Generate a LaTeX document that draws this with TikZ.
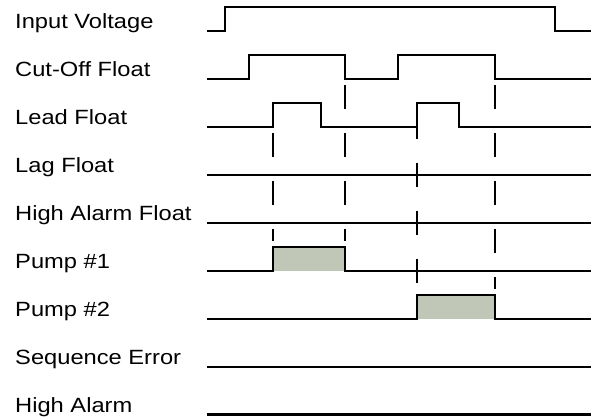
\documentclass[tikz,border=0pt]{standalone}
\usepackage{fontspec}
\setmainfont{Liberation Sans}[FakeStretch=1.15]
\definecolor{pumpfill}{RGB}{192,199,183}
\tikzset{
  lbl/.style={anchor=base west, inner sep=0pt, font=\fontsize{20.6}{24}\selectfont},
  sig/.style={line width=2.1pt, line join=miter},
  guide/.style={line width=2pt, dash pattern=on 24pt off 24pt},
}
\begin{document}
\begin{tikzpicture}[x=1pt, y=-1pt]
\useasboundingbox (0,0) rectangle (592,418);
% labels
\node[lbl] (l0) at (15,28.3) {Input Voltage};
\node[lbl] (l1) at (15,76.3) {Cut-Off Float};
\node[lbl] (l2) at (15,124.3) {Lead Float};
\node[lbl] (l3) at (15,172.3) {Lag Float};
\node[lbl] (l4) at (15,220.3) {High Alarm Float};
\node[lbl] (l5) at (15,268.3) {Pump \#1};
\node[lbl] (l6) at (15,316.3) {Pump \#2};
\node[lbl] (l7) at (15,364.3) {Sequence Error};
\node[lbl] (l8) at (15,412.3) {High Alarm};
% pump fills
\fill[pumpfill] (272.7,246.7) rectangle (344.7,270.7);
\fill[pumpfill] (416.7,294.7) rectangle (495,318.7);
% guides
\draw[guide] (272.7,133) -- (272.7,241);
\draw[guide] (344.7,85) -- (344.7,241);
\draw[guide] (416.7,114.7) -- (416.7,284);
\draw[guide] (495,85) -- (495,289);
% signals
\draw[sig] (207,30.7) -- (225,30.7) -- (225,6.7) -- (555,6.7) -- (555,30.7) -- (591,30.7);
\draw[sig] (207,78.7) -- (249,78.7) -- (249,54.7) -- (344.7,54.7) -- (344.7,78.7) -- (398.3,78.7) -- (398.3,54.7) -- (495,54.7) -- (495,78.7) -- (591,78.7);
\draw[sig] (207,126.7) -- (272.7,126.7) -- (272.7,102.7) -- (321,102.7) -- (321,126.7) -- (416.7,126.7) -- (416.7,102.7) -- (459,102.7) -- (459,126.7) -- (591,126.7);
\draw[sig] (207,174.7) -- (591,174.7);
\draw[sig] (207,222.7) -- (591,222.7);
\draw[sig] (207,270.7) -- (272.7,270.7) -- (272.7,246.7) -- (344.7,246.7) -- (344.7,270.7) -- (591,270.7);
\draw[sig] (207,318.7) -- (416.7,318.7) -- (416.7,294.7) -- (495,294.7) -- (495,318.7) -- (591,318.7);
\draw[sig] (207,366.7) -- (591,366.7);
\draw[sig] (207,414.5) -- (591,414.5);
\end{tikzpicture}
\end{document}
